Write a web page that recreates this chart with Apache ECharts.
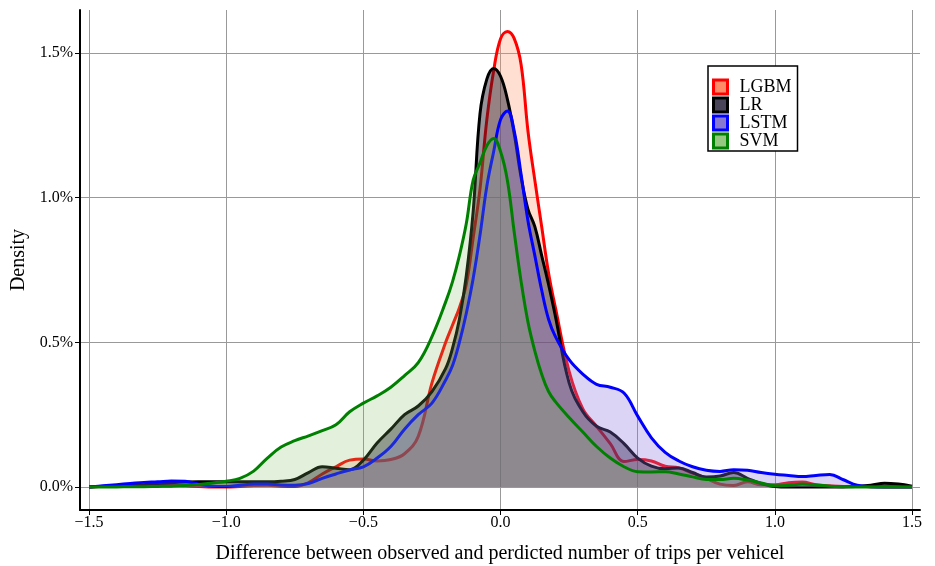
<!DOCTYPE html>
<html>
<head>
<meta charset="utf-8">
<script src="https://cdn.jsdelivr.net/npm/echarts@6/dist/echarts.min.js"></script>
<style>
  html, body { margin: 0; padding: 0; background: #ffffff; }
  #chart { width: 935px; height: 566px; }
</style>
</head>
<body>
<div id="chart"></div>
<script>
// Shared x positions for the density estimates (residual, trips per vehicle)
const xs = [
  -1.5, -1.45, -1.4, -1.35, -1.3, -1.25, -1.2, -1.15, -1.1, -1.05,
  -1.0, -0.95, -0.9, -0.85, -0.8, -0.75, -0.7, -0.65, -0.6, -0.55,
  -0.5, -0.45, -0.4, -0.35, -0.3, -0.25, -0.2, -0.175, -0.15, -0.125,
  -0.1, -0.075, -0.05, -0.025, 0, 0.025, 0.05, 0.075, 0.1, 0.125,
  0.15, 0.175, 0.2, 0.25, 0.3, 0.35, 0.4, 0.45, 0.5, 0.55,
  0.6, 0.65, 0.7, 0.75, 0.8, 0.85, 0.9, 0.95, 1.0, 1.05,
  1.1, 1.15, 1.2, 1.25, 1.3, 1.35, 1.4, 1.45, 1.5
];

// Density (%) per model at each x
const lgbm = [
  0, 0.002, 0.004, 0.005, 0.006, 0.006, 0.006, 0.004, 0.002, 0.0,
  0.0, 0.002, 0.005, 0.006, 0.003, 0.002, 0.015, 0.045, 0.07, 0.093,
  0.097, 0.09, 0.095, 0.115, 0.175, 0.36, 0.50, 0.56, 0.62, 0.70,
  0.86, 1.03, 1.27, 1.44, 1.55, 1.575, 1.55, 1.46, 1.23, 1.06,
  0.90, 0.74, 0.62, 0.40, 0.27, 0.21, 0.15, 0.088, 0.095, 0.09,
  0.072, 0.066, 0.048, 0.03, 0.01, 0.005, 0.018, 0.008, 0.008, 0.015,
  0.017, 0.008, 0.004, 0.002, 0.002, 0.001, 0, 0, 0
];
const lr = [
  0, 0.002, 0.004, 0.006, 0.008, 0.012, 0.015, 0.017, 0.018, 0.018,
  0.018, 0.018, 0.018, 0.018, 0.02, 0.026, 0.05, 0.07, 0.065, 0.06,
  0.093, 0.152, 0.20, 0.25, 0.28, 0.33, 0.41, 0.48, 0.58, 0.73,
  0.95, 1.29, 1.41, 1.447, 1.42, 1.34, 1.22, 1.07, 0.96, 0.90,
  0.80, 0.70, 0.59, 0.36, 0.26, 0.21, 0.19, 0.15, 0.10, 0.072,
  0.063, 0.066, 0.05, 0.035, 0.038, 0.05, 0.03, 0.012, 0.002, 0,
  0, 0, 0, 0, 0.002, 0.006, 0.013, 0.01, 0.003
];
const lstm = [
  0, 0.004, 0.008, 0.012, 0.016, 0.018, 0.021, 0.02, 0.01, 0.003,
  0.002, 0.006, 0.01, 0.01, 0.007, 0.006, 0.012, 0.03, 0.045, 0.059,
  0.07, 0.10, 0.14, 0.20, 0.25, 0.29, 0.37, 0.42, 0.50, 0.60,
  0.72, 0.87, 1.04, 1.16, 1.27, 1.30, 1.23, 1.08, 0.92, 0.80,
  0.68, 0.58, 0.52, 0.44, 0.39, 0.355, 0.345, 0.325, 0.245, 0.17,
  0.12, 0.09, 0.07, 0.058, 0.054, 0.06, 0.058, 0.05, 0.044, 0.04,
  0.036, 0.04, 0.043, 0.025, 0.006, 0.001, 0, 0, 0
];
const svm = [
  0, 0, 0, 0.001, 0.001, 0.002, 0.003, 0.005, 0.009, 0.014,
  0.02, 0.03, 0.055, 0.10, 0.138, 0.16, 0.177, 0.195, 0.215, 0.26,
  0.29, 0.315, 0.345, 0.385, 0.43, 0.52, 0.64, 0.71, 0.80, 0.91,
  1.06, 1.12, 1.18, 1.205, 1.16, 1.06, 0.88, 0.71, 0.57, 0.47,
  0.39, 0.33, 0.295, 0.24, 0.19, 0.14, 0.10, 0.07, 0.053, 0.052,
  0.053, 0.045, 0.035, 0.026, 0.026, 0.03, 0.024, 0.014, 0.004, 0.006,
  0.01, 0.007, 0.003, 0.001, 0, 0, 0, 0, 0
];

const models = ['LGBM', 'LR', 'LSTM', 'SVM'];
const xTicks = [-1.5, -1.0, -0.5, 0.0, 0.5, 1.0, 1.5];
const yTicks = [0.0, 0.5, 1.0, 1.5];

const seriesValues = [lgbm, lr, lstm, svm];
const lineColors = ['#ff0000', '#000000', '#0000ff', '#008000'];
const areaColors = ['#ff9466', '#1a1426', '#8a70de', '#7cbb5f'];
const areaOpacity = [0.3, 0.46, 0.3, 0.22];
const keyColors = ['#ff8c69', '#4a4458', '#8878d0', '#96c882'];

const serif = 'Liberation Serif';

const chart = echarts.init(document.getElementById('chart'), null, { renderer: 'canvas' });

// Each model gets its own layer so a later fill covers the earlier outlines
const series = models.map((name, i) => ({
  name: name,
  type: 'line',
  z: 2 + i,
  data: xs.map((x, k) => [x, seriesValues[i][k]]),
  smooth: 0.4,
  showSymbol: false,
  symbol: 'none',
  lineStyle: { color: lineColors[i], width: 3, join: 'round' },
  itemStyle: { color: lineColors[i] },
  areaStyle: { color: areaColors[i], opacity: areaOpacity[i] },
  emphasis: { disabled: true },
  animation: false
}));

const fmtX = v => (v < 0 ? '\u2212' : '') + Math.abs(v).toFixed(1);

chart.setOption({
  animation: false,
  backgroundColor: '#ffffff',
  grid: { left: 80, right: 15, top: 10, bottom: 56, containLabel: false, outerBoundsMode: 'none' },
  legend: {
    orient: 'vertical',
    left: 708,
    top: 66,
    z: 20,
    padding: [12, 6, 1, 4],
    itemWidth: 14,
    itemHeight: 14,
    itemGap: 0,
    backgroundColor: '#ffffff',
    borderColor: '#000000',
    borderWidth: 1.5,
    textStyle: { fontFamily: serif, fontSize: 18, lineHeight: 18, color: '#000000', padding: [0, 0, 0, 7] },
    data: models.map((m, i) => ({
      name: m,
      icon: 'rect',
      itemStyle: { color: keyColors[i], borderColor: lineColors[i], borderWidth: 3 }
    }))
  },
  xAxis: {
    type: 'value',
    min: -1.533,
    max: 1.529,
    name: 'Difference between observed and perdicted number of trips per vehicel',
    nameLocation: 'middle',
    nameGap: 34,
    nameTextStyle: { fontFamily: serif, fontSize: 20, color: '#000000' },
    axisLine: { show: true, onZero: false, lineStyle: { color: '#000000', width: 2 } },
    axisTick: { show: true, length: 5, customValues: xTicks, lineStyle: { color: '#000000', width: 1 } },
    axisLabel: {
      customValues: xTicks,
      formatter: fmtX,
      fontFamily: serif, fontSize: 16, color: '#000000', margin: 5
    },
    splitLine: { show: true, lineStyle: { color: '#999999', width: 1 } }
  },
  yAxis: {
    type: 'value',
    min: -0.0795,
    max: 1.649,
    name: 'Density',
    nameLocation: 'middle',
    nameGap: 48,
    nameRotate: 90,
    nameTextStyle: { fontFamily: serif, fontSize: 20, color: '#000000' },
    axisLine: { show: true, onZero: false, lineStyle: { color: '#000000', width: 2 } },
    axisTick: { show: true, length: 5, customValues: yTicks, lineStyle: { color: '#000000', width: 1 } },
    axisLabel: {
      customValues: yTicks,
      formatter: v => v.toFixed(1) + '%',
      fontFamily: serif, fontSize: 16, color: '#000000', margin: 7
    },
    splitLine: { show: true, lineStyle: { color: '#999999', width: 1 } }
  },
  series: series
});
</script>
</body>
</html>
